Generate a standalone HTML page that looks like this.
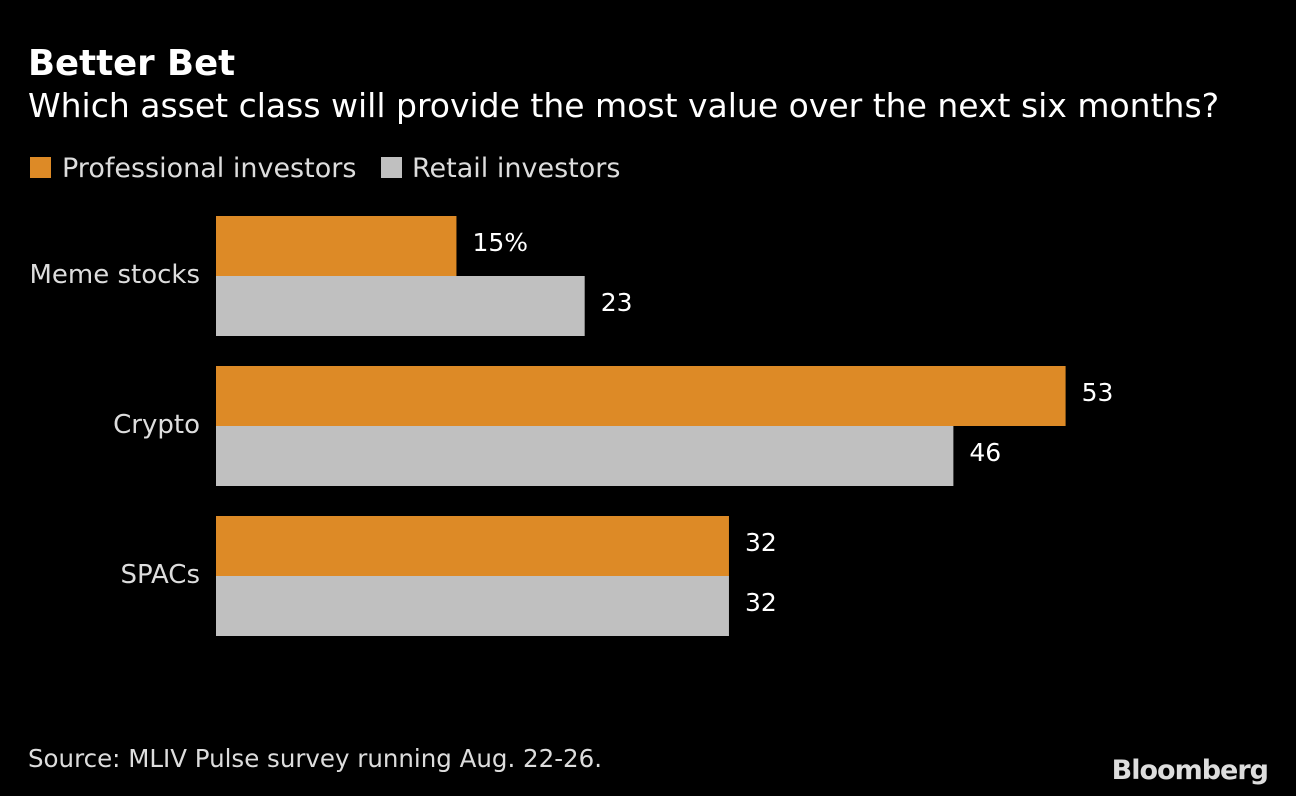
<!DOCTYPE html>
<html><head><meta charset="utf-8"><style>
body{margin:0;background:#000;width:1296px;height:796px;overflow:hidden;font-family:"DejaVu Sans","Liberation Sans",sans-serif;color:#fff}
</style></head><body>
<svg width="1296" height="796" style="position:absolute;left:0;top:0">
<rect width="1296" height="796" fill="#000"/>
<text x="28" y="75" font-size="35.5" font-weight="bold" fill="#fff">Better Bet</text>
<text x="28" y="117" font-size="33" fill="#fff">Which asset class will provide the most value over the next six months?</text>
<g>
<rect x="30" y="157" width="21" height="21" fill="#dd8a26"/>
<text x="62" y="177" font-size="27" fill="#ddd">Professional investors</text>
<rect x="381" y="157" width="21" height="21" fill="#c0c0c0"/>
<text x="412" y="177" font-size="27" fill="#ddd">Retail investors</text>
</g>
<g id="bars"></g>
<text x="28" y="767" font-size="24.5" fill="#ddd">Source: MLIV Pulse survey running Aug. 22-26.</text>
<text x="1268" y="779" font-size="27" font-weight="bold" fill="#ddd" text-anchor="end" letter-spacing="-1">Bloomberg</text>
</svg>
<script>
const categories=["Meme stocks","Crypto","SPACs"];
const professional=[15,53,32];
const retail=[23,46,32];
const valueLabels=[["15%","23"],["53","46"],["32","32"]];
const x0=216,scale=16.03,groupTop=216,groupStep=150,barH=60;
const xs=v=>x0+v*scale;
const g=document.getElementById('bars');
const NS="http://www.w3.org/2000/svg";
categories.forEach((c,i)=>{
  const top=groupTop+i*groupStep;
  const t=document.createElementNS(NS,'text');
  t.setAttribute('x',200);t.setAttribute('y',top+barH+7);
  t.setAttribute('text-anchor','end');t.setAttribute('font-size','26');t.setAttribute('fill','#ddd');
  t.textContent=c;
  
  
  g.appendChild(t);
  [[professional,'#dd8a26'],[retail,'#c0c0c0']].forEach(([arr,col],j)=>{
    const y=top+j*barH;
    const r=document.createElementNS(NS,'rect');
    r.setAttribute('x',x0);r.setAttribute('y',y);r.setAttribute('width',xs(arr[i])-x0);r.setAttribute('height',barH);r.setAttribute('fill',col);
    
    
    g.appendChild(r);
    const l=document.createElementNS(NS,'text');
    l.setAttribute('x',xs(arr[i])+16);l.setAttribute('y',y+barH/2+5);
    l.setAttribute('font-size','25');l.setAttribute('fill','#fff');
    l.textContent=valueLabels[i][j];
    
    
    g.appendChild(l);
  });
});
</script>
</body></html>
